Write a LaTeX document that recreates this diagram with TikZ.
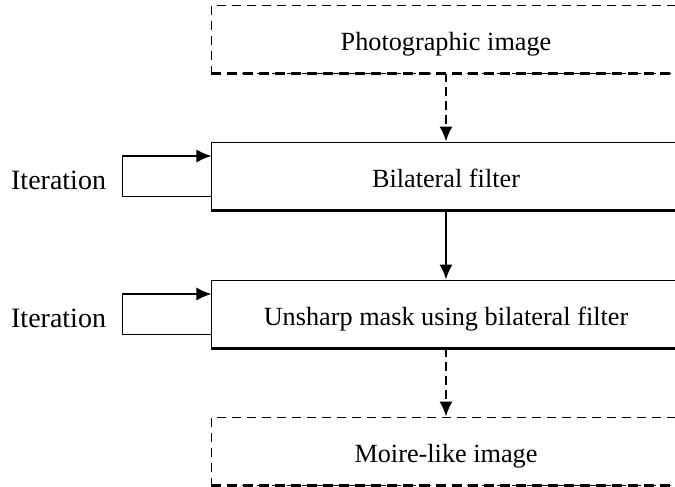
\documentclass[tikz,border=0pt]{standalone}
\usepackage{fontspec}
\setmainfont{Liberation Serif}
\usetikzlibrary{calc,arrows.meta}

\tikzset{
    stage/.style={draw,thin,minimum width=187.2pt,minimum height=27.2pt,inner sep=0pt,
        text height=11pt,text depth=1.5pt,font=\fontsize{10.5}{12.6}\selectfont},
    iobox/.style={stage,dash pattern=on 3.5pt off 2.5pt},
    label/.style={font=\fontsize{11.2}{13}\selectfont,anchor=east,inner sep=0pt},
    flow/.style={-{Latex[length=6pt,width=5.3pt]},thick},
}

\begin{document}
\begin{tikzpicture}[x=0.4pt,y=-0.4pt]
            \useasboundingbox (0,0) rectangle (675,487);

            \node[iobox] (photo) at (446,39) {Photographic image};
            \node[stage] (bilat) at (446,176) {Bilateral filter};
            \node[stage] (unsharp) at (446,314) {Unsharp mask using bilateral filter};
            \node[iobox] (moire) at (446,451) {Moire-like image};

            % heavier bottom edges
            \draw[very thick,dash pattern=on 4pt off 2.4pt] (photo.south west) -- (photo.south east);
            \draw[very thick,dash pattern=on 4pt off 2.4pt] (moire.south west) -- (moire.south east);
            \draw[very thick] (bilat.south west) -- (bilat.south east);
            \draw[very thick] (unsharp.south west) -- (unsharp.south east);

            \draw[flow,dash pattern=on 3.5pt off 2pt] (photo.south) -- (bilat.north);
            \draw[flow] (bilat.south) -- (unsharp.north);
            \draw[flow,dash pattern=on 3.5pt off 2pt] (unsharp.south) -- (moire.north);

            \foreach \b in {bilat,unsharp} {
                \node[label] (iter-\b) at ($(\b.west)+(-105,4)$) {Iteration};
                \coordinate (lo-\b) at ($(\b.west)+(-89,20)$);
                \coordinate (hi-\b) at ($(\b.west)+(-89,-20)$);
                \draw[thin] ($(\b.west)+(0,20)$) -- (lo-\b) -- (hi-\b);
                \draw[flow] (hi-\b) -- ($(\b.west)+(0,-20)$);
            }
        \end{tikzpicture}
\end{document}
